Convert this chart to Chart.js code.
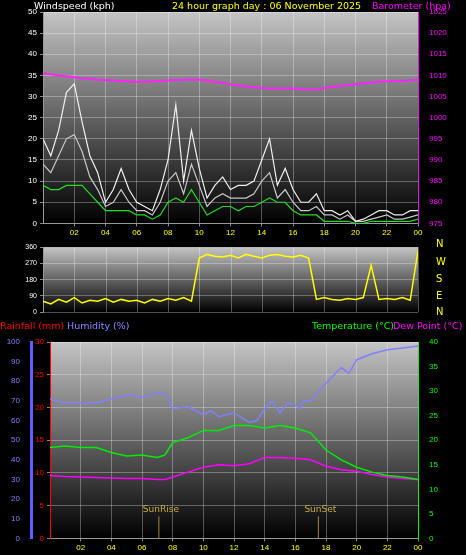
<!DOCTYPE html>
<html><head><meta charset="utf-8">
<script src="https://cdn.jsdelivr.net/npm/chart.js@4"></script>
<style>
body{margin:0;background:#000;width:466px;height:555px;overflow:hidden;font-family:"DejaVu Sans",sans-serif}
canvas{position:absolute;left:0}
.t{position:absolute;font-size:9.5px;white-space:nowrap;line-height:12px}
.d{position:absolute;left:436px;font-size:10px;color:#ff0;line-height:12px}
</style></head><body>
<div style="position:absolute;left:0;top:0"><canvas id="c1" width="466" height="240" style="top:0"></canvas></div>
<div style="position:absolute;left:0;top:240px;width:466px;height:80px"><canvas id="c2" width="466" height="80" style="width:466px;height:80px"></canvas></div>
<div style="position:absolute;left:0;top:320px"><canvas id="c3" width="466" height="235"></canvas></div>
<div class="t" style="left:34px;top:0;color:#fff">Windspeed (kph)</div>
<div class="t" style="left:172px;top:0;color:#ff0">24 hour graph day : 06 November 2025</div>
<div class="t" style="left:372px;top:0;color:#f0f">Barometer (hpa)</div>
<div class="t" style="left:0;top:320px;color:#f00">Rainfall (mm)</div>
<div class="t" style="left:67px;top:320px;color:#88f">Humidity (%)</div>
<div class="t" style="left:312px;top:320px;color:#0f0">Temperature (°C)</div>
<div class="t" style="left:393px;top:320px;color:#f0f">Dew Point (°C)</div>
<div class="d" style="top:238px">N</div><div class="d" style="top:256px">W</div><div class="d" style="top:273px">S</div><div class="d" style="top:290px">E</div><div class="d" style="top:306px">N</div>
<script>
const hoursHalf=[0,0.5,1,1.5,2,2.5,3,3.5,4,4.5,5,5.5,6,6.5,7,7.5,8,8.5,9,9.5,10,10.5,11,11.5,12,12.5,13,13.5,14,14.5,15,15.5,16,16.5,17,17.5,18,18.5,19,19.5,20,20.5,21,21.5,22,22.5,23,23.5,24];
const windGust=[20,16,22,31,33,24,16,12,5,8,13,8,5,4,3,8,15,28,10,22,13,6,9,11,8,9,9,10,15,20,9,13,8,5,5,7,3,3,2,3,0.5,1,2,3,3,2,2,3,3];
const windSpeed=[14,12,16,20,21,17,11,8,4,5,8,5,3,3,2,5,10,12,7,14,9,4,6,7,6,6,6,7,10,12,6,8,5,3,3,4,2,2,1,2,0.5,0.5,1,1.5,2,1,1,1.5,2];
const windAvg=[9,8,8,9,9,9,7,5,3,3,3,3,2,2,1,2,5,6,5,8,5,2,3,4,4,3,4,4,5,6,5,5,3,2,2,2,0.5,0.5,0.5,0.5,0,0,0.5,0.5,0.5,0.5,0.5,0.5,1];
const pressure=[1010.5,1010.3,1010,1009.8,1009.6,1009.3,1009.2,1009,1008.9,1008.8,1008.7,1008.6,1008.5,1008.5,1008.6,1008.7,1008.8,1008.9,1009,1009,1009,1008.8,1008.5,1008.2,1007.9,1007.6,1007.4,1007.2,1007,1006.9,1006.9,1006.9,1006.9,1006.8,1006.6,1006.7,1007,1007.3,1007.5,1007.7,1007.9,1008.1,1008.3,1008.5,1008.6,1008.7,1008.7,1008.8,1009];
const windDir=[60,45,70,55,80,50,65,60,75,55,70,60,65,50,70,60,75,65,80,60,300,320,310,305,315,300,320,310,300,315,320,310,305,315,300,70,80,70,65,75,70,80,260,70,75,70,80,65,340];
const hoursFull=[0,1,2,3,4,5,6,7,7.5,8,9,10,10.5,11,12,13,13.5,14,14.5,15,15.5,16,16.3,16.5,17,18,19,19.5,20,21,22,23,24];
const humidity=[71,69,69,69,71,73,72,74,74,66,67,63,65,62,64,59,60,66,70,64,69,68,66,70,70,79,87,84,91,94,96,97,98];
const hoursT=[0,1,2,3,4,5,6,7,7.5,8,9,10,11,12,13,14,15,16,17,18,19,20,21,22,23,24];
const temperature=[18.5,18.8,18.5,18.5,17.5,16.8,17,16.5,17,19.5,20.5,22,22,23,23,22.5,23,22.5,21.5,18,16,14.5,13.5,12.8,12.5,12];
const dewPoint=[12.8,12.6,12.5,12.4,12.3,12.2,12.2,12,12,12.5,13.5,14.5,15,14.8,15.2,16.5,16.5,16.3,16,14.7,14,13.7,13,12.5,12.2,12,11.5];
const rainfall=[0,0];
const rainHours=[0,24];
const xTicks=[2,4,6,8,10,12,14,16,18,20,22,24];
const dirTicks=[0,90,180,270,360];

const pts=(xs,ys)=>ys.map((y,i)=>({x:xs[i],y}));
const bg={id:'bg',beforeDraw(c){const a=c.chartArea,x=c.ctx;const g=x.createLinearGradient(0,a.top,0,a.bottom);g.addColorStop(0,'#c4c4c4');g.addColorStop(1,'#000');x.save();x.fillStyle=g;x.fillRect(a.left,a.top,a.right-a.left,a.bottom-a.top);x.restore();}};
const vgrid={id:'vgrid',beforeDatasetsDraw(c){const a=c.chartArea,x=c.ctx,s=c.scales.x;x.save();x.strokeStyle='rgba(255,255,255,0.3)';x.lineWidth=1;xTicks.forEach(v=>{const p=Math.round(s.getPixelForValue(v))+0.5;x.beginPath();x.moveTo(p,a.top);x.lineTo(p,a.bottom);x.stroke();});x.restore();}};
const grid={color:'rgba(255,255,255,0.3)',tickColor:'#888',tickLength:3};
function xAxis(show){return {type:'linear',min:0,max:24,afterBuildTicks:a=>{a.ticks=xTicks.map(v=>({value:v}))},
 ticks:{display:show,color:'#ff0',font:{size:8},padding:2,autoSkip:false,callback:v=>String(v%24).padStart(2,'0')},
 grid:Object.assign({},grid,{drawTicks:show}),border:{color:'#999'}};}
function fixW(w){return a=>{a.width=w};}
const base={animation:false,responsive:false,maintainAspectRatio:false,devicePixelRatio:1,plugins:{legend:{display:false},tooltip:{enabled:false}},elements:{point:{radius:0},line:{borderWidth:1.2,tension:0}}};

new Chart(document.getElementById('c1'),{type:'line',plugins:[bg],
 data:{datasets:[
  {data:pts(hoursHalf,windGust),borderColor:'#f0f0f0',yAxisID:'y'},
  {data:pts(hoursHalf,windSpeed),borderColor:'#c8c8c8',yAxisID:'y'},
  {data:pts(hoursHalf,windAvg),borderColor:'#22dd22',yAxisID:'y'},
  {data:pts(hoursHalf,pressure),borderColor:'#ff22ff',borderWidth:2,yAxisID:'p'}]},
 options:Object.assign({},base,{layout:{padding:{top:12}},scales:{
  x:xAxis(true),
  y:{position:'left',min:0,max:50,ticks:{stepSize:5,color:'#fff',font:{size:8},autoSkip:false},grid,border:{color:'#999'},afterFit:fixW(43)},
  p:{position:'right',min:975,max:1025,ticks:{stepSize:5,color:'#f0f',font:{size:8},autoSkip:false,callback:v=>String(v)},grid:{display:false},border:{color:'#f0f'},afterFit:fixW(48)}}})});

new Chart(document.getElementById('c2'),{type:'line',plugins:[bg,vgrid],
 data:{datasets:[{data:pts(hoursHalf,windDir),borderColor:'#ffff00',borderWidth:1.5,yAxisID:'y'}]},
 options:Object.assign({},base,{layout:{padding:{top:6,bottom:8,right:48}},scales:{
  x:{type:'linear',min:0,max:24,display:false},
  y:{position:'left',min:0,max:360,afterBuildTicks:a=>{a.ticks=dirTicks.map(v=>({value:v}))},ticks:{color:'#fff',font:{size:7},autoSkip:false},grid,border:{color:'#999'},afterFit:fixW(43)}}})});

const sun={id:'sun',afterDatasetsDraw(c){const x=c.ctx,s=c.scales.x,a=c.chartArea;x.save();x.font='9px "DejaVu Sans"';x.fillStyle='#c8b040';x.strokeStyle='#a08830';x.textAlign='center';
 [[7.1,'SunRise'],[17.5,'SunSet']].forEach(([h,t])=>{const px=s.getPixelForValue(h);x.beginPath();x.moveTo(px,a.bottom-22);x.lineTo(px,a.bottom);x.stroke();x.fillText(t,px+2,a.bottom-26);});x.restore();}};
new Chart(document.getElementById('c3'),{type:'line',plugins:[bg,sun],
 data:{datasets:[
  {data:pts(hoursFull,humidity),borderColor:'#8080ff',borderWidth:1.5,yAxisID:'h'},
  {data:pts(hoursT,temperature),borderColor:'#00ee00',borderWidth:1.5,yAxisID:'t'},
  {data:pts(hoursT,dewPoint),borderColor:'#ff00ff',borderWidth:1.5,yAxisID:'t'},
  {data:pts(rainHours,rainfall),borderColor:'#ff0000',borderWidth:3,yAxisID:'r'}]},
 options:Object.assign({},base,{layout:{padding:{top:22}},scales:{
  x:xAxis(true),
  r:{position:'left',min:0,max:30,ticks:{stepSize:5,color:'#f00',font:{size:8},autoSkip:false},grid,border:{color:'#f00'},afterFit:fixW(19)},
  h:{position:'left',min:0,max:100,ticks:{stepSize:10,color:'#8080ff',font:{size:8},autoSkip:false},grid:{display:false},border:{color:'#6060ff',width:3},afterFit:fixW(31)},
  t:{position:'right',min:0,max:40,ticks:{stepSize:5,color:'#0f0',font:{size:8},autoSkip:false},grid:{display:false},border:{color:'#0f0'},afterFit:fixW(48)}}})});
</script></body></html>
